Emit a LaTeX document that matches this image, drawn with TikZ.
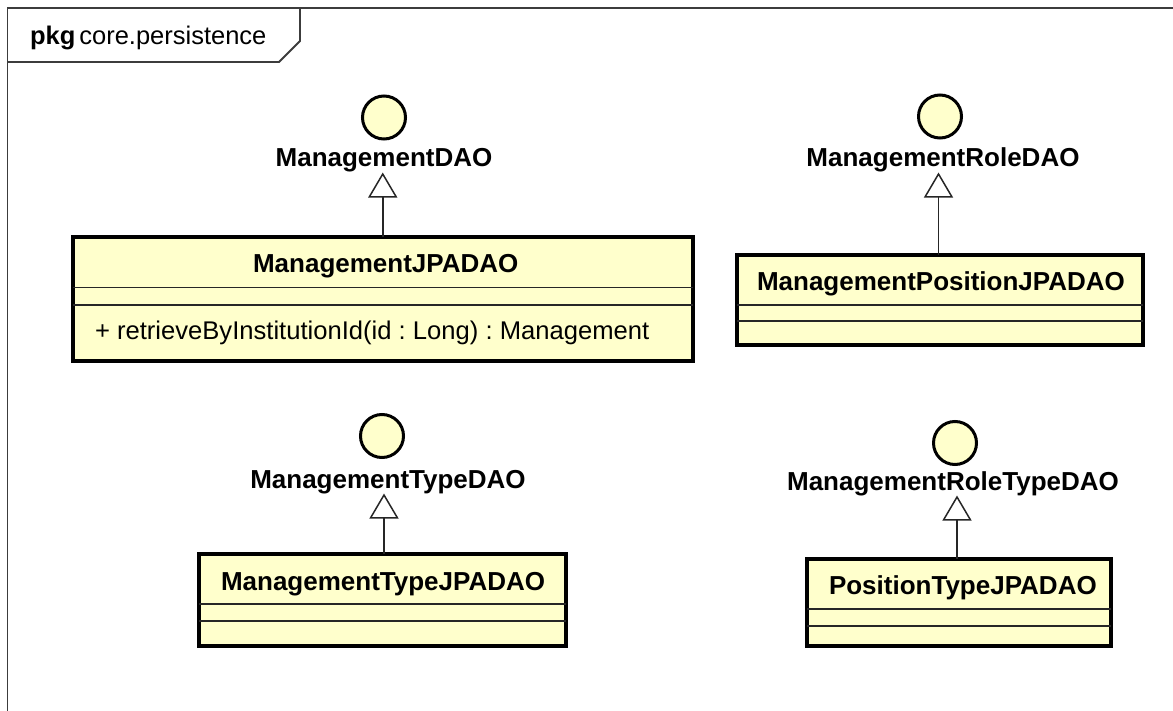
\documentclass[tikz,border=0pt]{standalone}
\usepackage{fontspec}
\setmainfont{Liberation Sans}
\usetikzlibrary{arrows.meta}
\definecolor{classfill}{RGB}{255,255,204}
\definecolor{framegray}{RGB}{60,60,60}
\frenchspacing
\begin{document}
\begin{tikzpicture}[x=1pt,y=-1pt,
  every node/.style={inner sep=0pt,outer sep=0pt},
  classbox/.style={rectangle,draw=black,line width=4pt,fill=classfill,anchor=north west},
  compartment/.style={draw=black!85,line width=1.5pt},
  classname/.style={font=\fontsize{26pt}{31pt}\selectfont\bfseries,anchor=base west},
  member/.style={font=\fontsize{25.6pt}{31pt}\selectfont,anchor=base west},
  iface/.style={circle,draw=black,line width=3pt,fill=classfill,minimum size=43pt},
  ifacename/.style={font=\fontsize{26pt}{31pt}\selectfont\bfseries,anchor=base},
  realize/.style={draw=black!85,line width=1.5pt,-{Triangle[open,length=25pt,width=29pt,fill=white]}},
  frameline/.style={draw=framegray,line width=1.8pt}
]
\useasboundingbox (0,0) rectangle (1173,711);

% package frame and name tab
\draw[frameline] (7.5,711) -- (7.5,8) -- (1173,8);
\draw[frameline] (7.5,62) -- (279,62) -- (300,41) -- (300,8);
\node[anchor=base west,font=\fontsize{25.5pt}{30pt}\selectfont] (pkg) at (30,45)
  {\textbf{pkg}\hspace{4pt}core.persistence};

% interfaces (lollipop notation)
\node[iface] (c1) at (384,117.5) {};
\node[ifacename] (l1) at (384,167) {ManagementDAO};
\node[iface] (c2) at (940,116.5) {};
\node[ifacename] (l2) at (943,167) {ManagementRoleDAO};
\node[iface] (c3) at (382,436) {};
\node[ifacename] (l3) at (388,488) {ManagementTypeDAO};
\node[iface] (c4) at (955,443) {};
\node[ifacename] (l4) at (953,490) {ManagementRoleTypeDAO};

% ManagementJPADAO
\node[classbox,minimum width=619.5pt,minimum height=124pt] (b1) at (73,237.5) {};
\draw[compartment] ([yshift=-50pt]b1.north west) -- ([yshift=-50pt]b1.north east);
\draw[compartment] ([yshift=-67.5pt]b1.north west) -- ([yshift=-67.5pt]b1.north east);
\node[classname,anchor=base] (t1) at ([xshift=3pt,yshift=-35.5pt]b1.north) {ManagementJPADAO};
\node[member] (m1) at ([xshift=22pt,yshift=-102.5pt]b1.north west)
  {+ retrieveByInstitutionId(id : Long) : Management};

% ManagementPositionJPADAO
\node[classbox,minimum width=406pt,minimum height=90pt] (b2) at (737,255) {};
\draw[compartment] ([yshift=-50pt]b2.north west) -- ([yshift=-50pt]b2.north east);
\draw[compartment] ([yshift=-66pt]b2.north west) -- ([yshift=-66pt]b2.north east);
\node[classname] (t2) at ([xshift=20pt,yshift=-35.5pt]b2.north west) {ManagementPositionJPADAO};

% ManagementTypeJPADAO
\node[classbox,minimum width=367pt,minimum height=92pt] (b3) at (199,554) {};
\draw[compartment] ([yshift=-50pt]b3.north west) -- ([yshift=-50pt]b3.north east);
\draw[compartment] ([yshift=-67pt]b3.north west) -- ([yshift=-67pt]b3.north east);
\node[classname] (t3) at ([xshift=22pt,yshift=-36pt]b3.north west) {ManagementTypeJPADAO};

% PositionTypeJPADAO
\node[classbox,minimum width=304pt,minimum height=87pt] (b4) at (807,559) {};
\draw[compartment] ([yshift=-50pt]b4.north west) -- ([yshift=-50pt]b4.north east);
\draw[compartment] ([yshift=-67pt]b4.north west) -- ([yshift=-67pt]b4.north east);
\node[classname] (t4) at ([xshift=22pt,yshift=-35pt]b4.north west) {PositionTypeJPADAO};

% realization connectors
\draw[realize] (b1.north) -- (l1.south -| b1.north);
\draw[realize] ([xshift=-1.5pt]b2.north) -- ([xshift=-1.5pt]l2.south -| b2.north);
\draw[realize] ([xshift=1.5pt]b3.north) -- ([xshift=1.5pt]l3.south -| b3.north);
\draw[realize] ([xshift=-2pt]b4.north) -- ([xshift=-2pt]l4.south -| b4.north);
\end{tikzpicture}
\end{document}
